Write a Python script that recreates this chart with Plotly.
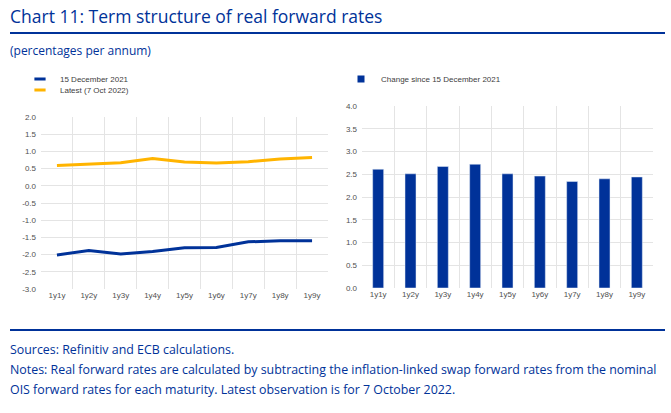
import plotly.graph_objects as go

W, H = 671, 413

categories = ["1y1y", "1y2y", "1y3y", "1y4y", "1y5y", "1y6y", "1y7y", "1y8y", "1y9y"]
dec_2021 = [-2.01, -1.88, -1.98, -1.91, -1.80, -1.79, -1.63, -1.60, -1.60]
latest_oct_2022 = [0.59, 0.62, 0.67, 0.79, 0.69, 0.66, 0.70, 0.78, 0.82]
change_since_dec = [2.61, 2.51, 2.67, 2.72, 2.51, 2.46, 2.34, 2.40, 2.44]

left_ticks = [2.0, 1.5, 1.0, 0.5, 0.0, -0.5, -1.0, -1.5, -2.0, -2.5, -3.0]
right_ticks = [4.0, 3.5, 3.0, 2.5, 2.0, 1.5, 1.0, 0.5, 0.0]

series_names = ["15 December 2021", "Latest (7 Oct 2022)", "Change since 15 December 2021"]
title_text = "Chart 11: Term structure of real forward rates"
subtitle_text = "(percentages per annum)"
sources_text = "Sources: Refinitiv and ECB calculations."
notes_lines = [
    "Notes: Real forward rates are calculated by subtracting the inflation-linked swap forward rates from the nominal",
    "OIS forward rates for each maturity. Latest observation is for 7 October 2022.",
]

BLUE = "#003299"
YELLOW = "#FFB400"
GRID = "#e4e4e4"
TICK = "#505050"
TEXT_FONT = "Open Sans"
SMALL_FONT = "Liberation Sans, Arial"


def px_x(x):
    return x / W


def px_y(y):
    return 1 - y / H


def fmt(v):
    return f"{v:.1f}"


fig = go.Figure()

fig.add_trace(go.Scatter(x=categories, y=dec_2021, mode="lines", name=series_names[0],
                         line=dict(color=BLUE, width=3), xaxis="x", yaxis="y", showlegend=False))
fig.add_trace(go.Scatter(x=categories, y=latest_oct_2022, mode="lines", name=series_names[1],
                         line=dict(color=YELLOW, width=3), xaxis="x", yaxis="y", showlegend=False))
fig.add_trace(go.Bar(x=categories, y=change_since_dec, name=series_names[2], marker_color=BLUE,
                     width=0.34, xaxis="x2", yaxis="y2", showlegend=False))

# legend entries
fig.add_trace(go.Scatter(x=[None], y=[None], mode="markers", name=series_names[0],
                         marker=dict(symbol="line-ew", size=8, color=BLUE, line=dict(color=BLUE, width=3)),
                         legend="legend", xaxis="x", yaxis="y"))
fig.add_trace(go.Scatter(x=[None], y=[None], mode="markers", name=series_names[1],
                         marker=dict(symbol="line-ew", size=8, color=YELLOW, line=dict(color=YELLOW, width=3)),
                         legend="legend3", xaxis="x", yaxis="y"))
fig.add_trace(go.Scatter(x=[None], y=[None], mode="markers", name=series_names[2],
                         marker=dict(symbol="square", size=7, color=BLUE),
                         legend="legend2", xaxis="x2", yaxis="y2"))

axis_common = dict(showline=False, zeroline=False, showgrid=True, gridcolor=GRID, gridwidth=1,
                   tickfont=dict(family=SMALL_FONT, size=8, color=TICK), ticks="")

legend_common = dict(xanchor="left", yanchor="middle", bgcolor="rgba(0,0,0,0)",
                     font=dict(family=SMALL_FONT, size=8, color="#404040"), itemwidth=30)

fig.update_layout(
    width=W, height=H,
    margin=dict(l=0, r=0, t=0, b=0, autoexpand=False),
    paper_bgcolor="white", plot_bgcolor="white",
    xaxis=dict(domain=[px_x(41), px_x(328)], type="category", tickson="boundaries",
               range=[-0.5, 8.5], anchor="y", **axis_common),
    yaxis=dict(domain=[px_y(289), px_y(117)], range=[-3.0, 2.0], tickvals=left_ticks,
               ticktext=[fmt(v) for v in left_ticks], anchor="x", ticklabelstandoff=4, **axis_common),
    xaxis2=dict(domain=[px_x(362), px_x(653)], type="category", tickson="boundaries",
                range=[-0.5, 8.5], anchor="y2", **axis_common),
    yaxis2=dict(domain=[px_y(288), px_y(106)], range=[0.0, 4.0], tickvals=right_ticks,
                ticktext=[fmt(v) for v in right_ticks], anchor="x2", ticklabelstandoff=4, **axis_common),
    legend=dict(x=px_x(20), y=px_y(79), **legend_common),
    legend3=dict(x=px_x(20), y=px_y(90), **legend_common),
    legend2=dict(x=px_x(341), y=px_y(79), **legend_common),
    showlegend=True,
)

annotations = [
    dict(text=title_text, x=px_x(8), y=px_y(16), font=dict(family=TEXT_FONT, size=17.5, color=BLUE)),
    dict(text=subtitle_text, x=px_x(8), y=px_y(50), font=dict(family=TEXT_FONT, size=12, color=BLUE)),
    dict(text=sources_text, x=px_x(8), y=px_y(349), font=dict(family=TEXT_FONT, size=12.4, color=BLUE)),
    dict(text=notes_lines[0], x=px_x(8), y=px_y(369), font=dict(family=TEXT_FONT, size=12.4, color=BLUE)),
    dict(text=notes_lines[1], x=px_x(8), y=px_y(389), font=dict(family=TEXT_FONT, size=12.4, color=BLUE)),
]
for a in annotations:
    a.update(xref="paper", yref="paper", xanchor="left", yanchor="middle", showarrow=False)
fig.update_layout(annotations=annotations)

fig.update_layout(shapes=[
    dict(type="line", xref="paper", yref="paper", x0=px_x(10), x1=px_x(665), y0=px_y(33), y1=px_y(33),
         line=dict(color=BLUE, width=2)),
    dict(type="line", xref="paper", yref="paper", x0=px_x(10), x1=px_x(665), y0=px_y(330), y1=px_y(330),
         line=dict(color=BLUE, width=2)),
])

fig.write_html("out.html", config={"displayModeBar": False},
               post_script="document.body.style.margin='0';")
